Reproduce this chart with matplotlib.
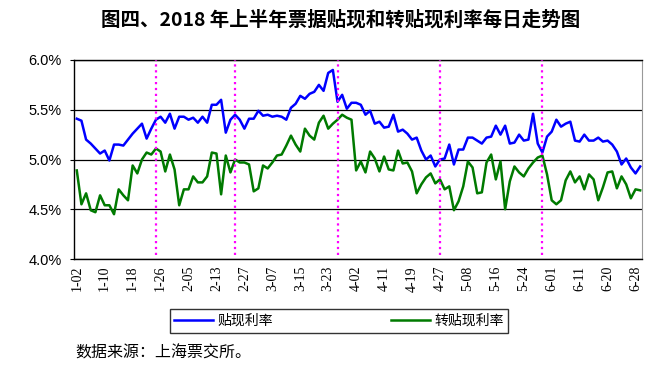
import numpy as np
import matplotlib
matplotlib.use("Agg")
import matplotlib.pyplot as plt

plt.rcParams['font.family'] = ['Noto Sans CJK SC', 'DejaVu Sans']

# daily rates (%), one value per trading day, 2018-01-02 .. 2018-06-29
discount = [
    5.41, 5.39, 5.20, 5.16, 5.11, 5.06, 5.09, 4.99, 5.15, 5.15, 5.14,
    5.20, 5.26, 5.31, 5.36, 5.21, 5.31, 5.40, 5.43, 5.37, 5.46,
    5.31, 5.43, 5.43, 5.40, 5.42, 5.37, 5.43, 5.37, 5.55, 5.55,
    5.60, 5.27, 5.40, 5.45, 5.40, 5.31, 5.41, 5.41, 5.49, 5.44,
    5.45, 5.43, 5.44, 5.43, 5.40, 5.52, 5.56, 5.64, 5.61, 5.66, 5.68,
    5.75, 5.69, 5.87, 5.90, 5.58, 5.65, 5.51, 5.57, 5.57, 5.55,
    5.45, 5.49, 5.36, 5.38, 5.32, 5.33, 5.45, 5.28, 5.30, 5.26, 5.20,
    5.22, 5.09, 5.00, 5.04, 4.93, 5.00, 5.01, 5.15, 4.95, 5.10,
    5.10, 5.22, 5.22, 5.19, 5.16, 5.22, 5.23, 5.34, 5.25, 5.34,
    5.16, 5.17, 5.25, 5.19, 5.20, 5.46, 5.16, 5.07, 5.23,
    5.28, 5.40, 5.33, 5.36, 5.38, 5.19, 5.18, 5.25, 5.19, 5.19,
    5.22, 5.18, 5.19, 5.15, 5.08, 4.95, 5.01, 4.92, 4.86, 4.93,
]
rediscount = [
    4.89, 4.55, 4.66, 4.49, 4.47, 4.64, 4.54, 4.54, 4.45, 4.70, 4.64,
    4.59, 4.94, 4.86, 5.00, 5.07, 5.05, 5.11, 5.08, 4.88, 5.05,
    4.90, 4.54, 4.70, 4.70, 4.83, 4.77, 4.77, 4.83, 5.07, 5.06,
    4.65, 5.04, 4.87, 5.00, 4.97, 4.97, 4.95, 4.68, 4.71, 4.94,
    4.91, 4.97, 5.04, 5.05, 5.14, 5.24, 5.15, 5.08, 5.31, 5.24, 5.20,
    5.37, 5.44, 5.31, 5.36, 5.40, 5.45, 5.42, 5.40, 4.89, 4.98,
    4.87, 5.08, 5.01, 4.88, 5.03, 4.90, 4.89, 5.09, 4.96, 4.97, 4.88,
    4.66, 4.75, 4.82, 4.86, 4.76, 4.80, 4.70, 4.73, 4.49, 4.58,
    4.73, 4.98, 4.92, 4.66, 4.67, 4.97, 5.05, 4.80, 4.98, 4.50,
    4.78, 4.93, 4.87, 4.83, 4.91, 4.97, 5.02, 5.04, 4.85,
    4.59, 4.55, 4.59, 4.79, 4.88, 4.77, 4.83, 4.70, 4.85, 4.80,
    4.59, 4.72, 4.87, 4.88, 4.71, 4.83, 4.75, 4.61, 4.70, 4.69,
]

# every 6th trading day is labelled
tick_labels = ['1-02', '1-10', '1-18', '1-26', '2-05', '2-13', '2-27',
               '3-07', '3-15', '3-23', '4-02', '4-11', '4-19', '4-27',
               '5-08', '5-16', '5-24', '6-01', '6-11', '6-20', '6-28']
tick_step = 6

# dotted markers near each month end (trading-day index)
month_marks = [17, 34, 56, 78, 100]

x = np.arange(len(discount))

fig = plt.figure(figsize=(6.53, 3.69), dpi=100)
ax = fig.add_axes([0.1133, 0.2981, 0.8699, 0.5393])

ax.plot(x, discount, color='#0000FF', lw=1.8, label='贴现利率', zorder=3)
ax.plot(x, rediscount, color='#007A00', lw=1.8, label='转贴现利率', zorder=3)
for m in month_marks:
    ax.axvline(m, ymin=0.02, ymax=1.0, color='#FF00FF', ls=':', lw=1.6, zorder=4)

ax.set_xlim(-0.6, 121.4)
ax.set_ylim(4.0, 6.0)
yt = [4.0, 4.5, 5.0, 5.5, 6.0]
ax.set_yticks(yt)
ax.set_yticklabels([f'{v:.1f}%' for v in yt], family='Liberation Sans', fontsize=10.5)
ax.set_xticks(np.arange(len(tick_labels)) * tick_step)
ax.set_xticklabels(tick_labels, rotation=90, family='Liberation Serif', fontsize=10)
ax.tick_params(axis='x', length=0, pad=5)
ax.tick_params(axis='y', length=3, width=0.8, direction='out', pad=6)
ax.yaxis.grid(True, color='black', lw=0.9)
ax.set_axisbelow(True)
for side in ['left', 'bottom', 'top']:
    ax.spines[side].set_color('black')
    ax.spines[side].set_linewidth(1.0)
ax.spines['right'].set_color('#999999')
ax.spines['right'].set_linewidth(0.8)

fig.text(0.522, 1 - 20 / 369, '图四、2018 年上半年票据贴现和转贴现利率每日走势图',
         ha='center', va='center', fontsize=14, fontweight='bold')

leg = fig.legend(loc='center', bbox_to_anchor=(0.519, 1 - 321 / 369), ncol=2,
                 frameon=True, fancybox=False, edgecolor='black', fontsize=10,
                 handlelength=2.8, columnspacing=8.5, handletextpad=0.3,
                 borderpad=0.35)
leg.get_frame().set_linewidth(1.0)

fig.text(75 / 653, 1 - 353 / 369, '数据来源：上海票交所。', ha='left', va='center', fontsize=11.5)

fig.savefig('out.png', dpi=100)
